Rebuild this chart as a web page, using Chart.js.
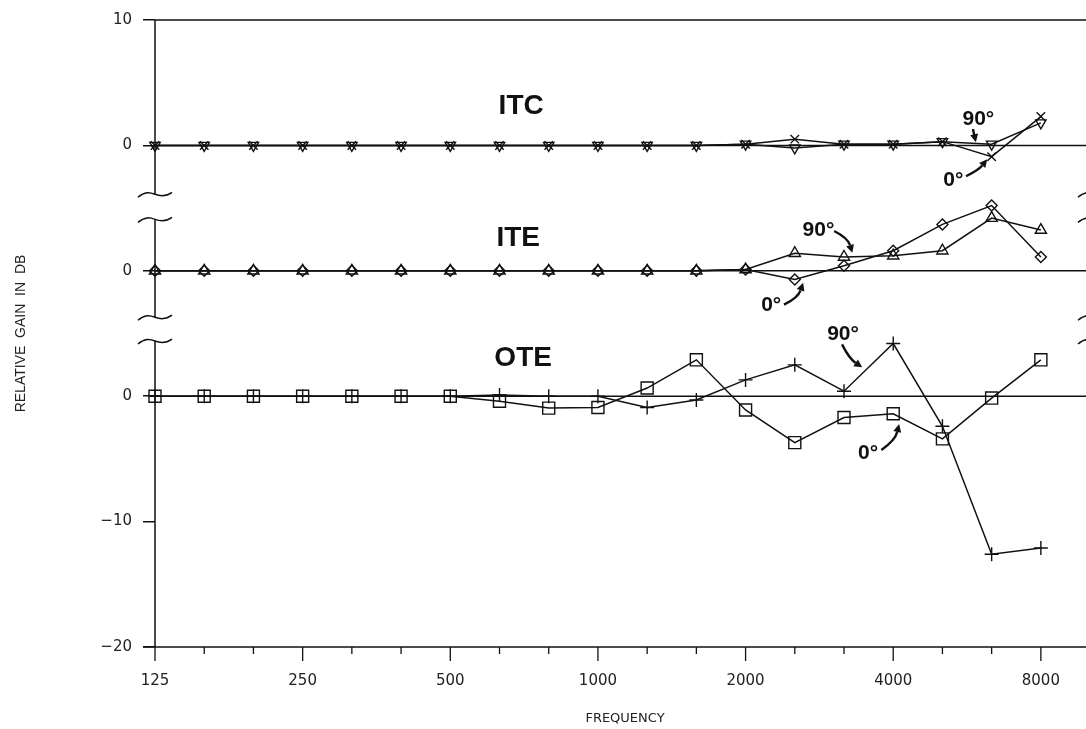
<!DOCTYPE html>
<html>
<head>
<meta charset="utf-8">
<title>Relative gain by frequency: ITC, ITE, OTE</title>
<script src="https://cdn.jsdelivr.net/npm/chart.js@4/dist/chart.umd.min.js"></script>
<style>
  html, body { margin: 0; padding: 0; background: #fff; overflow: hidden; }
  #wrap { width: 1110px; height: 729px; position: relative; }
</style>
</head>
<body>
<div id="wrap"><canvas id="chart"></canvas></div>
<script>
// One-third-octave band centre frequencies (Hz)
const frequencies = [125, 160, 200, 250, 315, 400, 500, 630, 800, 1000, 1250, 1600, 2000, 2500, 3150, 4000, 5000, 6300, 8000];
// Octave labels shown under the frequency axis
const octaveLabels = { 125: '125', 250: '250', 500: '500', 1000: '1000', 2000: '2000', 4000: '4000', 8000: '8000' };

// Relative gain (dB), each instrument measured at 0° and 90° incidence
const itc0  = [0, 0, 0, 0, 0, 0, 0, 0, 0, 0, 0, 0, 0.1, 0.5, 0.1, 0.1, 0.3, -0.9, 2.3];
const itc90 = [0, 0, 0, 0, 0, 0, 0, 0, 0, 0, 0, 0, 0.1, -0.2, 0.1, 0.1, 0.3, 0.1, 1.8];
const ite0  = [0, 0, 0, 0, 0, 0, 0, 0, 0, 0, 0, 0, 0.1, -0.7, 0.4, 1.6, 3.7, 5.2, 1.1];
const ite90 = [0, 0, 0, 0, 0, 0, 0, 0, 0, 0, 0, 0, 0.1, 1.4, 1.1, 1.2, 1.6, 4.2, 3.25];
const ote0  = [0, 0, 0, 0, 0, 0, 0, -0.4, -0.95, -0.9, 0.65, 2.9, -1.1, -3.7, -1.7, -1.4, -3.4, -0.15, 2.9];
const ote90 = [0, 0, 0, 0, 0, 0, 0, 0.1, 0, 0, -0.9, -0.3, 1.3, 2.5, 0.4, 4.2, -2.4, -12.6, -12.1];

// The three panels share one axis; ITC and ITE are lifted above OTE
const itcOffset = 20;
const iteOffset = 10;
const oteOffset = 0;

// Vertical axis ticks (axis units) and the labels printed beside them
const yTickValues = [-20, -10, 0, 10, 20, 30];
const yTickLabels = ['\u221220', '\u221210', '0', '0', '0', '10'];

const toPoints = (vals, offset) => vals.map((v, i) => ({ x: i, y: v + offset }));

function series(label, vals, offset, style, radius, rotation) {
  return {
    label,
    data: toPoints(vals, offset),
    borderColor: '#111',
    borderWidth: 1.5,
    pointStyle: style,
    pointRadius: radius,
    pointRotation: rotation || 0,
    pointBorderColor: '#111',
    pointBorderWidth: 1.4,
    pointBackgroundColor: 'rgba(255,255,255,0)',
    tension: 0,
    fill: false,
    clip: false
  };
}

const datasets = [
  series('ITC 0\u00b0', itc0, itcOffset, 'crossRot', 6),
  series('ITC 90\u00b0', itc90, itcOffset, 'triangle', 6, 180),
  series('ITE 0\u00b0', ite0, iteOffset, 'rectRot', 5.5),
  series('ITE 90\u00b0', ite90, iteOffset, 'triangle', 6.5),
  series('OTE 0\u00b0', ote0, oteOffset, 'rect', 8.5),
  series('OTE 90\u00b0', ote90, oteOffset, 'cross', 7)
];

// Axis breaks between the panels: [upper end, lower end] in axis units
const axisBreaks = [[16.1, 14.1], [6.3, 4.4]];

// Panel names and the angle call-outs with their arrows (axis coordinates)
const panelNames = [
  { text: 'ITC', x: 7.44, y: 23.13 },
  { text: 'ITE', x: 7.38, y: 12.62 },
  { text: 'OTE', x: 7.48, y: 3.02 }
];
const callouts = [
  { text: '90\u00b0', x: 16.73, y: 22.06, from: [16.62, 21.3], to: [16.68, 20.25], bend: 0 },
  { text: '0\u00b0',  x: 16.22, y: 17.22, from: [16.48, 17.54], to: [16.91, 18.89], bend: 3 },
  { text: '90\u00b0', x: 13.48, y: 13.25, from: [13.80, 13.17], to: [14.17, 11.43], bend: -6 },
  { text: '0\u00b0',  x: 12.52, y: 7.22,  from: [12.78, 7.30],  to: [13.17, 9.05],  bend: 6 },
  { text: '90\u00b0', x: 13.98, y: 4.92,  from: [13.96, 4.13],  to: [14.37, 2.30],  bend: 4 },
  { text: '0\u00b0',  x: 14.49, y: -4.52, from: [14.76, -4.29], to: [15.12, -2.22], bend: 6 }
];

function squiggle(ctx, cx, cy, w) {
  ctx.beginPath();
  ctx.moveTo(cx - w, cy + 3);
  ctx.bezierCurveTo(cx - w * 0.6, cy - 3, cx - w * 0.3, cy - 2, cx, cy);
  ctx.bezierCurveTo(cx + w * 0.3, cy + 2, cx + w * 0.6, cy + 3, cx + w, cy - 2);
  ctx.stroke();
}

function brokenAxis(ctx, x, yScale, top, bottom) {
  let start = top;
  ctx.beginPath();
  axisBreaks.forEach(([hi, lo]) => {
    const yHi = yScale.getPixelForValue(hi);
    ctx.moveTo(x, start);
    ctx.lineTo(x, yHi);
    start = yScale.getPixelForValue(lo);
  });
  ctx.moveTo(x, start);
  ctx.lineTo(x, bottom);
  ctx.stroke();
  axisBreaks.forEach(([hi, lo]) => {
    squiggle(ctx, x, yScale.getPixelForValue(hi), 17);
    squiggle(ctx, x, yScale.getPixelForValue(lo), 17);
  });
}

const framePlugin = {
  id: 'frame',
  beforeDatasetsDraw(chart) {
    const { ctx, chartArea: a, scales: { x, y } } = chart;
    ctx.save();
    ctx.strokeStyle = '#111';
    ctx.lineWidth = 1.6;
    ctx.lineCap = 'butt';
    // top frame line and bottom axis line
    ctx.beginPath();
    ctx.moveTo(a.left, a.top); ctx.lineTo(a.right, a.top);
    ctx.moveTo(a.left - 12, a.bottom); ctx.lineTo(a.right, a.bottom);
    ctx.stroke();
    // zero reference line of each panel
    ctx.lineWidth = 1.5;
    [itcOffset, iteOffset, oteOffset].forEach(off => {
      const py = y.getPixelForValue(off);
      ctx.beginPath();
      ctx.moveTo(a.left, py); ctx.lineTo(a.right, py);
      ctx.stroke();
    });
    // broken vertical axes at both sides
    ctx.lineWidth = 1.5;
    brokenAxis(ctx, a.left, y, a.top, a.bottom);
    brokenAxis(ctx, a.right, y, a.top, a.bottom);
    // frequency tick marks: long at octaves, short at third-octaves
    ctx.lineWidth = 1.3;
    frequencies.forEach((f, i) => {
      const px = x.getPixelForValue(i);
      const len = octaveLabels[f] ? 14 : 7;
      ctx.beginPath();
      ctx.moveTo(px, a.bottom); ctx.lineTo(px, a.bottom + len);
      ctx.stroke();
    });
    ctx.restore();
  },
  afterDatasetsDraw(chart) {
    const { ctx, scales: { x, y } } = chart;
    ctx.save();
    ctx.fillStyle = '#111';
    ctx.strokeStyle = '#111';
    ctx.textAlign = 'center';
    ctx.textBaseline = 'middle';
    ctx.font = 'bold 28px "Liberation Sans", Arial, sans-serif';
    panelNames.forEach(p => ctx.fillText(p.text, x.getPixelForValue(p.x), y.getPixelForValue(p.y)));
    ctx.font = 'bold 21px "Liberation Sans", Arial, sans-serif';
    callouts.forEach(c => {
      ctx.fillText(c.text, x.getPixelForValue(c.x), y.getPixelForValue(c.y));
      const x0 = x.getPixelForValue(c.from[0]), y0 = y.getPixelForValue(c.from[1]);
      const x1 = x.getPixelForValue(c.to[0]), y1 = y.getPixelForValue(c.to[1]);
      const dx = x1 - x0, dy = y1 - y0, len = Math.hypot(dx, dy);
      const cx = (x0 + x1) / 2 + (-dy / len) * c.bend;
      const cy = (y0 + y1) / 2 + (dx / len) * c.bend;
      const head = 8, half = 4;
      const ux = (x1 - cx) / Math.hypot(x1 - cx, y1 - cy);
      const uy = (y1 - cy) / Math.hypot(x1 - cx, y1 - cy);
      const bx = x1 - ux * head, by = y1 - uy * head;
      ctx.lineWidth = 2.4;
      ctx.beginPath();
      ctx.moveTo(x0, y0);
      ctx.quadraticCurveTo(cx, cy, bx, by);
      ctx.stroke();
      ctx.beginPath();
      ctx.moveTo(x1, y1);
      ctx.lineTo(bx - uy * half, by + ux * half);
      ctx.lineTo(bx + uy * half, by - ux * half);
      ctx.closePath();
      ctx.fill();
    });
    ctx.restore();
  }
};

new Chart(document.getElementById('chart'), {
  type: 'line',
  data: { datasets },
  plugins: [framePlugin],
  options: {
    responsive: true,
    maintainAspectRatio: false,
    animation: false,
    events: [],
    layout: { padding: { top: 15, right: 15, left: 0, bottom: 0 } },
    plugins: { legend: { display: false }, tooltip: { enabled: false } },
    scales: {
      x: {
        type: 'linear',
        min: 0,
        max: 19.1,
        afterBuildTicks: s => { s.ticks = frequencies.map((f, i) => ({ value: i })); },
        afterFit: s => { s.height = 82; },
        border: { display: false },
        grid: { display: false, drawTicks: false },
        ticks: {
          autoSkip: false,
          maxRotation: 0,
          padding: 25,
          color: '#222',
          font: { family: '"DejaVu Sans", sans-serif', size: 15 },
          callback: v => octaveLabels[frequencies[v]] || ''
        },
        title: {
          display: true,
          text: 'FREQUENCY',
          color: '#222',
          font: { family: '"DejaVu Sans", sans-serif', size: 13 },
          padding: { top: 0, bottom: 3 }
        }
      },
      y: {
        type: 'linear',
        min: -20,
        max: 30,
        afterBuildTicks: s => { s.ticks = yTickValues.map(v => ({ value: v })); },
        afterFit: s => { s.width = 155; },
        border: { display: false },
        grid: { drawOnChartArea: false, drawTicks: true, tickLength: 12, color: '#111', lineWidth: 1.5 },
        ticks: {
          padding: 11,
          color: '#222',
          font: { family: '"DejaVu Sans", sans-serif', size: 15 },
          callback: v => yTickLabels[yTickValues.indexOf(v)]
        },
        title: {
          display: true,
          text: 'RELATIVE  GAIN  IN  DB',
          color: '#222',
          font: { family: '"Liberation Sans", Arial, sans-serif', size: 14 },
          padding: { top: 13, bottom: 0 }
        }
      }
    }
  }
});
</script>
</body>
</html>
